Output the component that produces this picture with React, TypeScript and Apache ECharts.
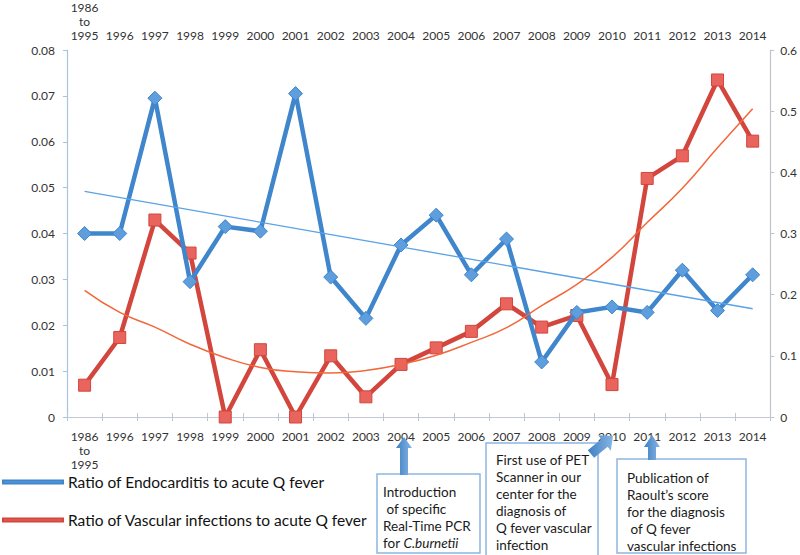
import React, { useEffect, useRef } from "react";
import * as echarts from "echarts";

const categories = [
  "1986\nto\n1995", "1996", "1997", "1998", "1999", "2000", "2001", "2002", "2003", "2004",
  "2005", "2006", "2007", "2008", "2009", "2010", "2011", "2012", "2013", "2014",
];

const endocarditis = [
  0.040, 0.040, 0.0695, 0.0295, 0.0415, 0.0405, 0.0705, 0.0305, 0.0215, 0.0375,
  0.044, 0.031, 0.0388, 0.012, 0.0228, 0.024, 0.0228, 0.032, 0.0232, 0.031,
];

const vascular = [
  0.052, 0.13, 0.322, 0.268, 0, 0.11, 0, 0.1, 0.033, 0.086,
  0.113, 0.14, 0.185, 0.147, 0.166, 0.053, 0.39, 0.427, 0.551, 0.451,
];

// Linear trend (read at both ends)
const endoTrend = [
  0.0492, null, null, null, null, null, null, null, null, null,
  null, null, null, null, null, null, null, null, null, 0.0236,
];

// Polynomial trend
const vascTrend = [
  0.207, 0.171, 0.147, 0.119, 0.097, 0.081, 0.074, 0.072, 0.076, 0.086,
  0.101, 0.122, 0.146, 0.182, 0.217, 0.261, 0.318, 0.374, 0.44, 0.504,
];

const leftTicks = { min: 0, max: 0.08, interval: 0.01 };
const rightTicks = { min: 0, max: 0.6, interval: 0.1 };

const FONT = "Lato, 'Liberation Sans', sans-serif";

function upArrow(cx: number, tipY: number, baseY: number, headY: number, headHalf: number, shaftHalf: number) {
  return [
    [cx, tipY],
    [cx + headHalf, headY],
    [cx + shaftHalf, headY],
    [cx + shaftHalf, baseY],
    [cx - shaftHalf, baseY],
    [cx - shaftHalf, headY],
    [cx - headHalf, headY],
  ];
}

function dirArrow(sx: number, sy: number, tx: number, ty: number, headLen: number, headHalf: number, shaftHalf: number) {
  const dx = tx - sx, dy = ty - sy;
  const L = Math.hypot(dx, dy);
  const ux = dx / L, uy = dy / L;
  const nx = -uy, ny = ux;
  const bx = tx - headLen * ux, by = ty - headLen * uy;
  return [
    [sx + shaftHalf * nx, sy + shaftHalf * ny],
    [bx + shaftHalf * nx, by + shaftHalf * ny],
    [bx + headHalf * nx, by + headHalf * ny],
    [tx, ty],
    [bx - headHalf * nx, by - headHalf * ny],
    [bx - shaftHalf * nx, by - shaftHalf * ny],
    [sx - shaftHalf * nx, sy - shaftHalf * ny],
  ];
}

export default function App() {
  const ref = useRef<HTMLDivElement>(null);
  useEffect(() => {
    if (!ref.current) return;
    const chart = echarts.init(ref.current, undefined, { renderer: "svg" });
    const arrowFill = new echarts.graphic.LinearGradient(0, 0, 1, 0, [
      { offset: 0, color: "#3f7fc4" },
      { offset: 1, color: "#86b6e4" },
    ]);
    const boxStyle = { fill: "#ffffff", stroke: "#8db6df", lineWidth: 1.5 };
    const annText = { fontSize: 13.5, fontFamily: FONT, fill: "#1a1a1a", lineHeight: 17 };

    const option: any = {
      animation: false,
      backgroundColor: "#ffffff",
      grid: { left: 67, right: 27, top: 48, bottom: 138, containLabel: false },
      legend: {
        orient: "vertical",
        left: 2,
        top: 474,
        padding: 0,
        itemWidth: 60,
        itemHeight: 3,
        itemGap: 22,
        icon: "rect",
        data: ["Ratio of Endocarditis to acute Q fever", "Ratio of Vascular infections to acute Q fever"],
        textStyle: { fontSize: 15.5, fontFamily: FONT, color: "#111", lineHeight: 16 },
      },
      xAxis: [
        {
          type: "category",
          data: categories,
          position: "bottom",
          boundaryGap: true,
          axisLine: { lineStyle: { color: "#b3c6db", width: 1 } },
          axisTick: { show: true, interval: 0, length: 4, lineStyle: { color: "#b3c6db" } },
          axisLabel: { interval: 0, fontSize: 12, fontFamily: FONT, color: "#333", margin: 12, lineHeight: 14 },
          splitLine: { show: false },
        },
        {
          type: "category",
          data: categories,
          position: "top",
          boundaryGap: true,
          axisLine: { lineStyle: { color: "#c2c9d1", width: 1 } },
          axisTick: { show: true, interval: 0, length: 4, lineStyle: { color: "#c2c9d1" } },
          axisLabel: { interval: 0, fontSize: 12, fontFamily: FONT, color: "#333", margin: 8, lineHeight: 14 },
          splitLine: { show: false },
        },
      ],
      yAxis: [
        {
          type: "value",
          position: "left",
          ...leftTicks,
          axisLine: { show: true, lineStyle: { color: "#a9c3de", width: 1.2 } },
          axisTick: { show: true, length: 4, lineStyle: { color: "#a9c3de" } },
          axisLabel: { fontSize: 12, fontFamily: FONT, color: "#333", margin: 12, formatter: (v: number) => (v === 0 ? "0" : v.toFixed(2)) },
          splitLine: { show: false },
        },
        {
          type: "value",
          position: "right",
          ...rightTicks,
          axisLine: { show: true, lineStyle: { color: "#bfc4ca", width: 1.2 } },
          axisTick: { show: true, length: 4, lineStyle: { color: "#bfc4ca" } },
          axisLabel: { fontSize: 12, fontFamily: FONT, color: "#333", margin: 10, formatter: (v: number) => (v === 0 ? "0" : v.toFixed(1)) },
          splitLine: { show: false },
        },
      ],
      series: [
        {
          name: "Ratio of Vascular infections to acute Q fever",
          type: "line",
          xAxisIndex: 0,
          yAxisIndex: 1,
          data: vascular,
          symbol: "rect",
          symbolSize: 12,
          lineStyle: { color: "#d2463d", width: 4.5 },
          itemStyle: { color: "#e8645c", borderColor: "#d2463d", borderWidth: 1 },
          z: 3,
        },
        {
          name: "Ratio of Endocarditis to acute Q fever",
          type: "line",
          xAxisIndex: 0,
          yAxisIndex: 0,
          data: endocarditis,
          symbol: "diamond",
          symbolSize: 14,
          lineStyle: { color: "#3f86cc", width: 4.5 },
          itemStyle: { color: "#5e9edc", borderColor: "#3f86cc", borderWidth: 1 },
          z: 4,
        },
        {
          name: "endoTrend",
          type: "line",
          xAxisIndex: 0,
          yAxisIndex: 0,
          data: endoTrend,
          connectNulls: true,
          symbol: "none",
          lineStyle: { color: "#5aa2e6", width: 1.3 },
          z: 5,
          silent: true,
        },
        {
          name: "vascTrend",
          type: "line",
          xAxisIndex: 0,
          yAxisIndex: 1,
          data: vascTrend,
          smooth: true,
          symbol: "none",
          lineStyle: { color: "#f2683a", width: 1.5 },
          z: 5,
          silent: true,
        },
      ],
      graphic: [
        // Box 1
        { type: "rect", shape: { x: 377, y: 474, width: 103, height: 79 }, style: boxStyle, z: 10 },
        {
          type: "text",
          x: 383,
          y: 483,
          style: {
            ...annText,
            text: "Introduction\n of specific\nReal-Time PCR\n{n|for }{i|C.burnetii}",
            rich: {
              n: { fontSize: 13.5, fontFamily: FONT, fill: "#1a1a1a" },
              i: { fontSize: 13.5, fontFamily: FONT, fill: "#1a1a1a", fontStyle: "italic" },
            },
          },
          z: 11,
        },
        { type: "polygon", shape: { points: upArrow(404, 437, 475, 448, 8, 4) }, style: { fill: arrowFill }, z: 12 },
        // Box 2
        { type: "rect", shape: { x: 486, y: 443, width: 112, height: 120 }, style: boxStyle, z: 10 },
        {
          type: "text",
          x: 496,
          y: 451,
          style: { ...annText, text: "First use of PET\nScanner in our\ncenter for the\ndiagnosis of\nQ fever vascular\ninfection" },
          z: 11,
        },
        { type: "polygon", shape: { points: dirArrow(591, 454, 613, 436, 11, 10, 5) }, style: { fill: arrowFill }, z: 12 },
        // Box 3
        { type: "rect", shape: { x: 617, y: 459, width: 129, height: 94 }, style: boxStyle, z: 10 },
        {
          type: "text",
          x: 627,
          y: 469,
          style: { ...annText, text: "Publication of\nRaoult\u2019s score\nfor the diagnosis\n of Q fever\nvascular infections" },
          z: 11,
        },
        { type: "polygon", shape: { points: upArrow(652, 435, 460, 447, 8, 4) }, style: { fill: arrowFill }, z: 12 },
      ],
    };
    chart.setOption(option);
    return () => chart.dispose();
  }, []);
  return <div ref={ref} style={{ width: 800, height: 555, position: "absolute", left: 0, top: 0 }} />;
}
